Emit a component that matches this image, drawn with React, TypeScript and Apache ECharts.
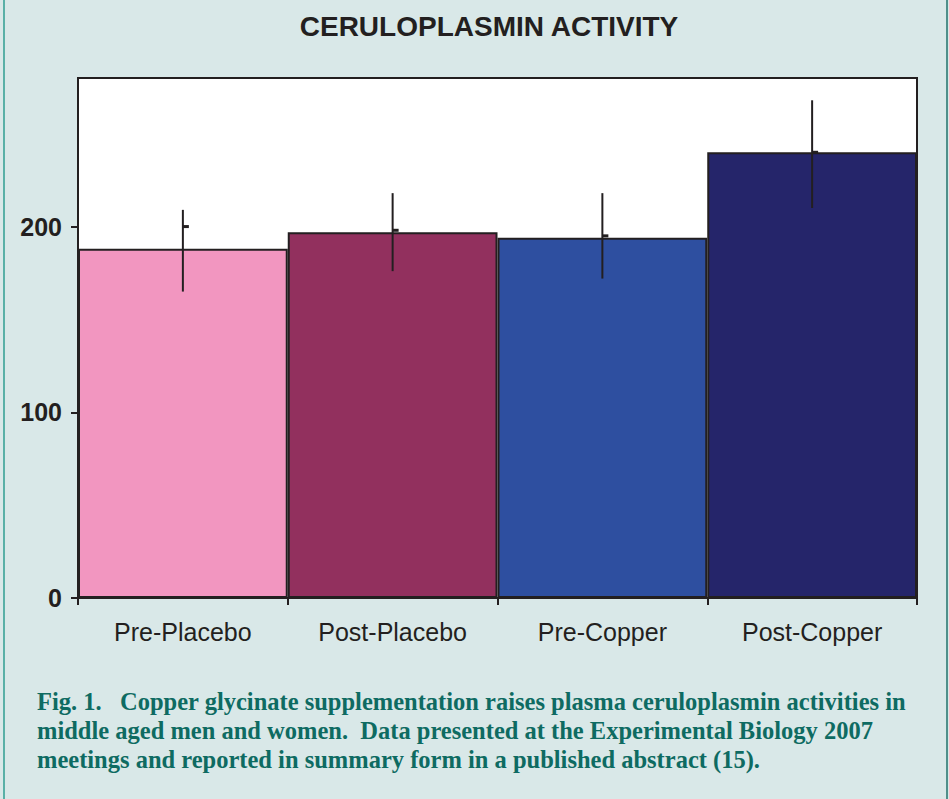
import React, { useEffect, useRef } from "react";
import * as echarts from "echarts";

const categories = ["Pre-Placebo", "Post-Placebo", "Pre-Copper", "Post-Copper"];
const values = [188, 197, 194, 240];
const errLow = [165, 176, 172, 210];
const errHigh = [209, 218, 218, 268];
const markers = [200, 198, 195, 240];
const barColors = ["#f296c0", "#92305e", "#2e4fa0", "#25256a"];
const yTicks = [0, 100, 200];
const titleText = "CERULOPLASMIN ACTIVITY";
const captionLines = [
  "Fig. 1.   Copper glycinate supplementation raises plasma ceruloplasmin activities in",
  "middle aged men and women.  Data presented at the Experimental Biology 2007",
  "meetings and reported in summary form in a published abstract (15).",
];

export default function App() {
  const ref = useRef<HTMLDivElement>(null);
  useEffect(() => {
    document.body.style.margin = "0";
    const chart = echarts.init(ref.current!, null, { renderer: "svg" });
    const ink = "#231f20";
    chart.setOption({
      animation: false,
      backgroundColor: "#d9e8e8",
      grid: {
        left: 78,
        right: 32,
        top: 78,
        bottom: 201,
        show: true,
        backgroundColor: "#ffffff",
        borderColor: ink,
        borderWidth: 2,
      },
      xAxis: {
        type: "category",
        data: categories,
        axisLine: { lineStyle: { color: ink, width: 2 } },
        axisTick: { show: true, length: 7, lineStyle: { color: ink, width: 2 } },
        axisLabel: {
          color: ink,
          fontSize: 25,
          fontFamily: "Liberation Sans, Arial, sans-serif",
          margin: 21,
        },
      },
      yAxis: {
        type: "value",
        min: 0,
        max: 280,
        interval: 100,
        splitLine: { show: false },
        axisLine: { show: true, lineStyle: { color: ink, width: 2 } },
        axisTick: { show: true, length: 7, lineStyle: { color: ink, width: 2 } },
        axisLabel: {
          color: ink,
          fontSize: 25,
          fontWeight: "bold",
          fontFamily: "Liberation Sans, Arial, sans-serif",
          margin: 16,
          showMaxLabel: false,
          formatter: (v: number) => (yTicks.includes(v) ? String(v) : ""),
        },
      },
      series: [
        {
          type: "bar",
          barCategoryGap: 0,
          barGap: 0,
          data: values.map((v, i) => ({
            value: v,
            itemStyle: { color: barColors[i], borderColor: ink, borderWidth: 2 },
          })),
        },
        {
          type: "custom",
          z: 10,
          data: categories.map((_, i) => [i, errLow[i], errHigh[i], markers[i]]),
          renderItem: (params: any, api: any) => {
            const i = api.value(0);
            const lo = api.coord([i, api.value(1)]);
            const hi = api.coord([i, api.value(2)]);
            const mk = api.coord([i, api.value(3)]);
            return {
              type: "group",
              children: [
                {
                  type: "line",
                  shape: { x1: lo[0], y1: lo[1], x2: hi[0], y2: hi[1] },
                  style: { stroke: ink, lineWidth: 2 },
                },
                {
                  type: "rect",
                  shape: { x: mk[0], y: mk[1] - 1.5, width: 6, height: 3 },
                  style: { fill: ink },
                },
              ],
            };
          },
        },
      ],
      graphic: [
        {
          type: "line",
          shape: { x1: 4, y1: 0, x2: 4, y2: 799 },
          style: { stroke: "#2f9e92", lineWidth: 1.5 },
        },
        {
          type: "line",
          shape: { x1: 947, y1: 0, x2: 947, y2: 799 },
          style: { stroke: "#4f8f8a", lineWidth: 2 },
        },
        {
          type: "text",
          x: 489,
          y: 26,
          style: {
            text: titleText,
            fill: ink,
            font: "bold 28px 'Liberation Sans', Arial, sans-serif",
            textAlign: "center",
            textVerticalAlign: "middle",
          },
        },
        ...captionLines.map((t, k) => ({
          type: "text",
          x: 37,
          y: 714 + k * 29,
          style: {
            text: t,
            fill: "#0e6b62",
            font: "bold 24.5px 'Liberation Serif', 'Times New Roman', serif",
            textAlign: "left",
            textVerticalAlign: "bottom",
          },
        })),
      ],
    });
    return () => chart.dispose();
  }, []);
  return (
    <div
      ref={ref}
      style={{ position: "absolute", left: 0, top: 0, width: 949, height: 799 }}
    />
  );
}
